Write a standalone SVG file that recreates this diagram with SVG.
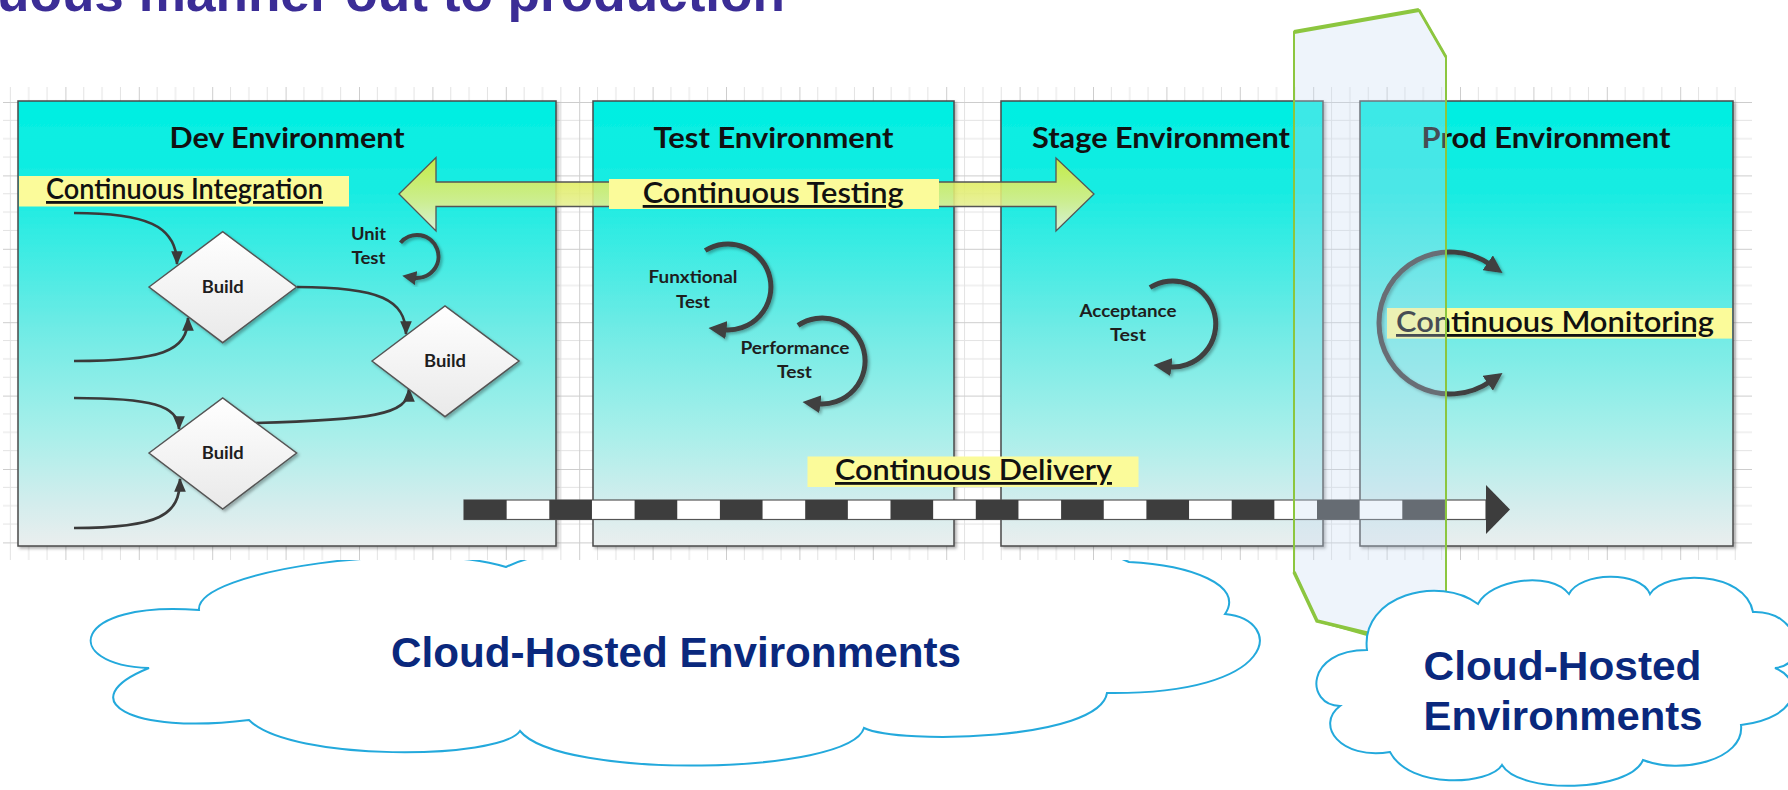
<svg xmlns="http://www.w3.org/2000/svg" width="1788" height="790" viewBox="0 0 1788 790">
<style>
.box{stroke:#4a4a4a;stroke-width:1.5;fill:url(#boxg);filter:url(#sh)}
.ttl{font-family:Lato,"Open Sans",sans-serif;font-weight:bold;font-size:28px;fill:#111;text-anchor:middle}
.lbl{font-family:Lato,"Open Sans",sans-serif;font-weight:bold;font-size:16.5px;fill:#1e1e1e;text-anchor:middle}
.hl{fill:#fbfb9a}
.cont{font-family:Lato,"Open Sans",sans-serif;font-weight:600;font-size:28px;fill:#111;text-decoration:underline}
.dia{fill:url(#diag);stroke:#555;stroke-width:1.5;filter:url(#sh)}
.con{fill:none;stroke:#3a3a3a;stroke-width:2.7;marker-end:url(#ah)}
.arc{fill:none;stroke:#3f3f3f;stroke-width:5;marker-end:url(#big);filter:url(#sh)}
.cloud{fill:#fff;stroke:#23a9dc;stroke-width:2}
.ctxt{font-family:"Liberation Sans",Arial,sans-serif;font-weight:bold;fill:#0a287d;text-anchor:middle}
.gmin{stroke:#e3e3e3;stroke-width:1}
.gmaj{stroke:#cdcdcd;stroke-width:1}
</style>
<defs>
<linearGradient id="boxg" x1="0" y1="0" x2="0" y2="1">
<stop offset="0" stop-color="#00efe2"/>
<stop offset="0.2" stop-color="#17ece2"/>
<stop offset="0.5" stop-color="#6cebe5"/>
<stop offset="0.75" stop-color="#a9efea"/>
<stop offset="0.9" stop-color="#d2eded"/>
<stop offset="1" stop-color="#eaeeee"/>
</linearGradient>
<linearGradient id="diag" x1="0" y1="0" x2="0" y2="1">
<stop offset="0" stop-color="#ffffff"/>
<stop offset="1" stop-color="#e9e9e9"/>
</linearGradient>
<linearGradient id="arrg" x1="0" y1="0" x2="0" y2="1">
<stop offset="0" stop-color="#dcec30"/>
<stop offset="0.6" stop-color="#e4ee86"/>
<stop offset="1" stop-color="#eef2d4"/>
</linearGradient>
<pattern id="grid" patternUnits="userSpaceOnUse" x="-8" y="102" width="73.4" height="73.4">
<path class="gmin" d="M18.35 0V73.4M36.7 0V73.4M55.05 0V73.4M0 18.35H73.4M0 36.7H73.4M0 55.05H73.4"/>
<path class="gmaj" d="M0.5 0V73.4M0 0.5H73.4"/>
</pattern>
<filter id="sh" x="-10%" y="-10%" width="130%" height="130%">
<feDropShadow dx="2" dy="2" stdDeviation="1.5" flood-color="#000" flood-opacity="0.3"/>
</filter>
<marker id="ah" viewBox="0 0 12 10" markerUnits="userSpaceOnUse" markerWidth="14" markerHeight="12" refX="11" refY="5" orient="auto">
<path d="M0,0 L12,5 L0,10 z" fill="#3a3a3a"/>
</marker>
<marker id="big" viewBox="0 0 10 10" markerUnits="userSpaceOnUse" markerWidth="18" markerHeight="18" refX="2" refY="5" orient="auto">
<path d="M0,0 L10,5 L0,10 z" fill="#3f3f3f"/>
</marker>
<marker id="sm" viewBox="0 0 10 10" markerUnits="userSpaceOnUse" markerWidth="14" markerHeight="14" refX="2" refY="5" orient="auto">
<path d="M0,0 L10,5 L0,10 z" fill="#3f3f3f"/>
</marker>
</defs>
<rect x="0" y="0" width="1788" height="790" fill="#fff"/>
<text x="-3" y="11" font-family="'Liberation Sans',Arial,sans-serif" font-weight="bold" font-size="52" fill="#3b2d96" textLength="788" lengthAdjust="spacingAndGlyphs">uous manner out to production</text>

<g id="cloud-main">
<path class="cloud" d="M199,610 C195,570 420,540 506,567 C600,520 1050,520 1129,562 C1190,565 1245,585 1225,614 C1285,620 1280,695 1107,693 C1100,740 900,745 864,728 C850,775 560,780 520,731 C500,760 290,762 249,720 C130,735 70,700 149,668 C60,665 70,600 199,610 Z"/>
</g>

<g id="grid-bg">
<rect x="3" y="87" width="1749" height="473" fill="#fff"/>
<rect x="3" y="87" width="1749" height="473" fill="url(#grid)"/>
</g>

<g id="dev-env">
<rect class="box" x="18" y="101" width="538" height="445"/>
<text class="ttl" x="287" y="148" textLength="235" lengthAdjust="spacingAndGlyphs">Dev Environment</text>
</g>
<g id="test-env">
<rect class="box" x="593" y="101" width="361" height="445"/>
<text class="ttl" x="773.5" y="148" textLength="240" lengthAdjust="spacingAndGlyphs">Test Environment</text>
</g>
<g id="stage-env">
<rect class="box" x="1001" y="101" width="322" height="445"/>
<text class="ttl" x="1161" y="148" textLength="258" lengthAdjust="spacingAndGlyphs">Stage Environment</text>
</g>
<g id="prod-env">
<rect class="box" x="1360" y="101" width="373" height="445"/>
<text class="ttl" x="1546" y="148" textLength="249" lengthAdjust="spacingAndGlyphs">Prod Environment</text>
</g>

<g id="connectors">
<path class="con" d="M74,213 C145,213 177,225 177,264"/>
<path class="con" d="M74,361 C160,361 188,352 188,318"/>
<path class="con" d="M74,398 C150,398 179,405 179,429"/>
<path class="con" d="M74,528 C160,528 180,515 180,479"/>
<path class="con" d="M297,287 C380,287 406,300 406,334"/>
<path class="con" d="M255,423 C370,420 409,415 409,389"/>
</g>

<g id="build-1">
<polygon class="dia" points="149,287 222.7,231.7 296.6,287 222.7,342.7"/>
<text class="lbl" x="222.7" y="293" font-size="17.5" textLength="42" lengthAdjust="spacingAndGlyphs">Build</text>
</g>
<g id="build-2">
<polygon class="dia" points="372,361 445,306 519,361 445,416.7"/>
<text class="lbl" x="445" y="367" font-size="17.5" textLength="42" lengthAdjust="spacingAndGlyphs">Build</text>
</g>
<g id="build-3">
<polygon class="dia" points="149,453 222.7,398 296.6,453 222.7,509"/>
<text class="lbl" x="222.7" y="459" font-size="17.5" textLength="42" lengthAdjust="spacingAndGlyphs">Build</text>
</g>

<g id="unit-test">
<path class="arc" style="stroke-width:4;marker-end:url(#sm)" d="M400.5,242.7 A21.5,21.5 0 1 1 413.3,277.7"/>
<text class="lbl" x="368.5" y="239.5" textLength="35" lengthAdjust="spacingAndGlyphs">Unit</text>
<text class="lbl" x="368.5" y="264" textLength="34" lengthAdjust="spacingAndGlyphs">Test</text>
</g>

<g id="functional-test">
<path class="arc" d="M705.2,250.5 A43,43 0 1 1 722.8,329.7"/>
<text class="lbl" x="693" y="283" textLength="89" lengthAdjust="spacingAndGlyphs">Funxtional</text>
<text class="lbl" x="693" y="307.7" textLength="34" lengthAdjust="spacingAndGlyphs">Test</text>
</g>
<g id="performance-test">
<path class="arc" d="M798,325.4 A43,43 0 1 1 816.8,403.7"/>
<text class="lbl" x="795" y="354" textLength="109" lengthAdjust="spacingAndGlyphs">Performance</text>
<text class="lbl" x="794.5" y="378.3" textLength="35" lengthAdjust="spacingAndGlyphs">Test</text>
</g>
<g id="acceptance-test">
<path class="arc" d="M1150,287.5 A43,43 0 1 1 1167.8,366.7"/>
<text class="lbl" x="1128" y="317" textLength="97" lengthAdjust="spacingAndGlyphs">Acceptance</text>
<text class="lbl" x="1128" y="341" textLength="36" lengthAdjust="spacingAndGlyphs">Test</text>
</g>

<g id="continuous-testing">
<polygon points="399,194 436,157.5 436,182 1056,182 1056,158 1094,194 1056,231 1056,206.5 436,206.5 436,231" fill="url(#arrg)" fill-opacity="0.88" stroke="#555" stroke-width="1.3"/>
<rect class="hl" x="609" y="179" width="330" height="30"/>
<text class="cont" x="642.7" y="203" textLength="261" lengthAdjust="spacingAndGlyphs">Continuous Testing</text>
</g>

<g id="continuous-integration">
<rect class="hl" x="19" y="176" width="330" height="30.5"/>
<text class="cont" x="46" y="199" font-size="25" textLength="277" lengthAdjust="spacingAndGlyphs">Continuous Integration</text>
</g>

<g id="continuous-monitoring">
<path class="arc" d="M1379,323 A71,71 0 0 1 1490.7,264.8"/>
<path class="arc" d="M1379,323 A71,71 0 0 0 1490.7,381.2"/>
<rect class="hl" x="1387" y="308" width="345" height="30.6"/>
<text class="cont" x="1396" y="332" font-size="29" textLength="318" lengthAdjust="spacingAndGlyphs">Continuous Monitoring</text>
</g>

<g id="continuous-delivery">
<rect class="hl" x="807.5" y="456.5" width="331" height="30.5"/>
<text class="cont" x="835" y="480" font-size="26" textLength="277" lengthAdjust="spacingAndGlyphs">Continuous Delivery</text>
<rect x="464" y="500" width="1022" height="19.5" fill="#fff" stroke="#555" stroke-width="1.2"/>
<line x1="464" y1="509.75" x2="1486" y2="509.75" stroke="#3d3d3d" stroke-width="19.5" stroke-dasharray="42.65 42.65"/>
<polygon points="1486,485 1510,509.5 1486,534" fill="#3d3d3d"/>
</g>

<g id="cloud-boundary">
<polygon points="1294,32 1419,10 1446,57 1446,650 1420,650 1317,621 1294,572" fill="#c6daf2" fill-opacity="0.3" stroke="#8cc63f" stroke-width="2"/>
<polyline points="1294,32 1419,10" fill="none" stroke="#8cc63f" stroke-width="4"/>
<polyline points="1419,10 1446,57" fill="none" stroke="#8cc63f" stroke-width="2.8"/>
<polyline points="1294,572 1317,621 1400,641" fill="none" stroke="#8cc63f" stroke-width="3.5"/>
</g>

<g id="cloud-prod">
<path class="cloud" d="M1367,650 C1360,595 1440,575 1478,604 C1490,580 1550,570 1569,594 C1580,572 1640,570 1650,594 C1665,570 1745,570 1753,612 C1800,610 1810,665 1775,668 C1805,680 1800,718 1741,725 C1745,760 1680,775 1643,760 C1630,792 1520,795 1502,765 C1490,785 1410,790 1390,752 C1340,760 1315,725 1340,706 C1305,705 1305,650 1367,650 Z"/>
</g>

<g id="cloud-labels">
<text class="ctxt" x="676" y="667" font-size="42" textLength="570" lengthAdjust="spacingAndGlyphs">Cloud-Hosted Environments</text>
<text class="ctxt" x="1562.5" y="680" font-size="40" textLength="278" lengthAdjust="spacingAndGlyphs">Cloud-Hosted</text>
<text class="ctxt" x="1563" y="730" font-size="40" textLength="279" lengthAdjust="spacingAndGlyphs">Environments</text>
</g>
</svg>
